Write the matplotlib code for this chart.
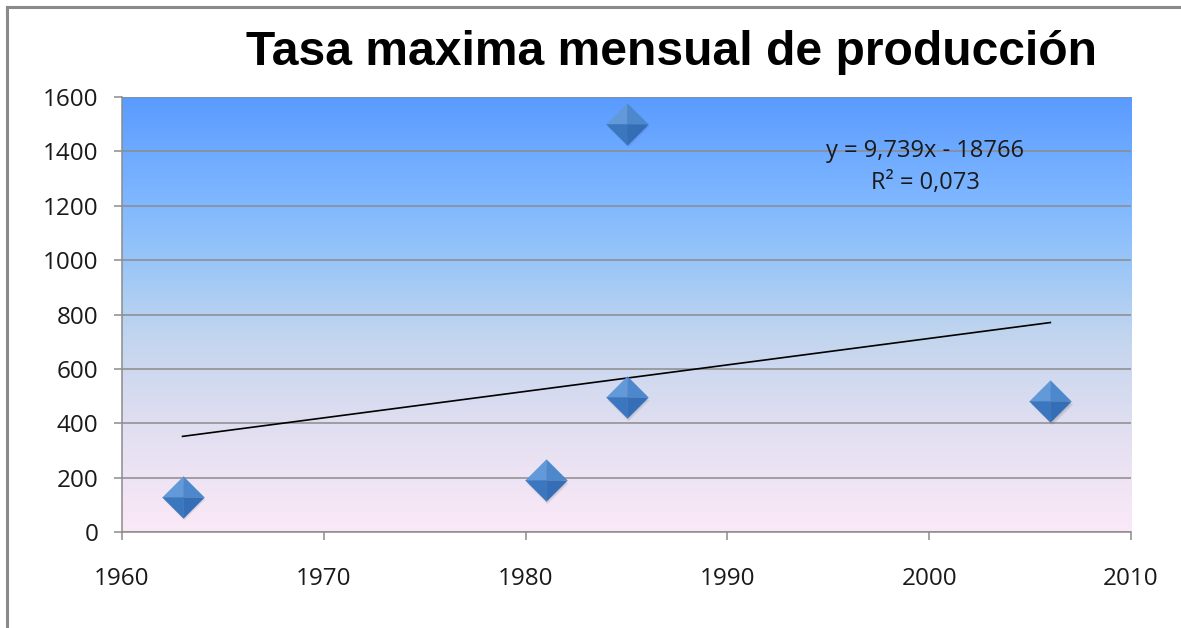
import matplotlib
matplotlib.use("Agg")
import matplotlib.pyplot as plt
import numpy as np
from matplotlib.colors import LinearSegmentedColormap
from matplotlib.lines import Line2D

# datos
anios = [1963, 1981, 1985, 1985, 2006]
tasa = [130, 190, 1500, 495, 480]
pendiente = 9.739
ordenada = -18766
r2 = 0.073
titulo = "Tasa maxima mensual de producción"
xticks = [1960, 1970, 1980, 1990, 2000, 2010]
yticks = [0, 200, 400, 600, 800, 1000, 1200, 1400, 1600]

fig = plt.figure(figsize=(11.81, 6.28), dpi=100)
fig.patch.set_facecolor("white")
ax = fig.add_axes([0.1033, 0.1529, 0.8544, 0.6926])

# fondo degradado del area de trazado
fondo = LinearSegmentedColormap.from_list(
    "fondo",
    [(0.0, "#fbe9f7"), (0.25, "#e0def1"), (0.45, "#c2d5ee"),
     (0.62, "#99c6f8"), (0.78, "#7cb5ff"), (1.0, "#5a9bff")])
grad = np.linspace(0, 1, 256).reshape(-1, 1)
ax.imshow(grad, cmap=fondo, aspect="auto", origin="lower",
          extent=[0, 1, 0, 1], transform=ax.transAxes, zorder=0)

ax.set_xlim(1960, 2010)
ax.set_ylim(0, 1600)
ax.set_xticks(xticks)
ax.set_yticks(yticks)
ax.yaxis.grid(True, color="#8c8c8c", linewidth=1.1)
ax.set_axisbelow(True)
for s in ["top", "right"]:
    ax.spines[s].set_visible(False)
for s in ["left", "bottom"]:
    ax.spines[s].set_color("#8c8c8c")
    ax.spines[s].set_linewidth(1.1)
    ax.spines[s].set_zorder(1)
ax.tick_params(axis="both", direction="out", length=6, width=1.1,
               color="#8c8c8c", labelsize=17.5, labelcolor="#1a1a1a")
ax.tick_params(axis="x", pad=19)
ax.tick_params(axis="y", pad=11)
for lab in ax.get_xticklabels() + ax.get_yticklabels():
    lab.set_family("Open Sans")

# linea de tendencia
xt = np.array([min(anios), max(anios)])
ax.plot(xt, pendiente * xt + ordenada, color="black", linewidth=1.2, zorder=3)
ax.text(1999.8, 1400, "y = 9,739x - 18766", ha="center", va="center",
        fontsize=17, family="Open Sans", color="#1a1a1a", zorder=4)
ax.text(1999.8, 1285, "R² = 0,073", ha="center", va="center",
        fontsize=17, family="Open Sans", color="#1a1a1a", zorder=4)

# marcadores tipo diamante con facetas y sombra suave
ms = 30
for k, a in [(1.0, 0.10), (0.9, 0.12), (0.8, 0.14)]:
    ax.plot(np.array(anios) + 0.08, np.array(tasa) - 8, linestyle="none",
            marker=[(0, 1), (1, 0), (0, -1), (-1, 0)], markersize=ms * k,
            markerfacecolor="#404050", markeredgewidth=0, alpha=a, zorder=4)
facetas = [
    ([(0, 0), (-1, 0), (0, 1)], "#6299d8"),
    ([(0, 0), (0, 1), (1, 0)], "#4d88cd"),
    ([(0, 0), (-1, 0), (0, -1)], "#3b77bf"),
    ([(0, 0), (0, -1), (1, 0)], "#336eb6"),
]
for verts, col in facetas:
    ax.plot(anios, tasa, linestyle="none", marker=verts, markersize=ms,
            markerfacecolor=col, markeredgecolor=col, markeredgewidth=0.3, zorder=5)

fig.text(0.569, 0.917, titulo, ha="center", va="center", fontsize=34.6,
         fontweight="bold", family="Liberation Sans", color="black")

# marco exterior
fig.add_artist(Line2D([7 / 1181, 7 / 1181], [0, 1 - 7 / 628], transform=fig.transFigure,
                      color="#8a8a8a", linewidth=2.2))
fig.add_artist(Line2D([7 / 1181, 1], [1 - 7 / 628, 1 - 7 / 628], transform=fig.transFigure,
                      color="#8a8a8a", linewidth=2.2))

fig.savefig("out.png", dpi=100)
